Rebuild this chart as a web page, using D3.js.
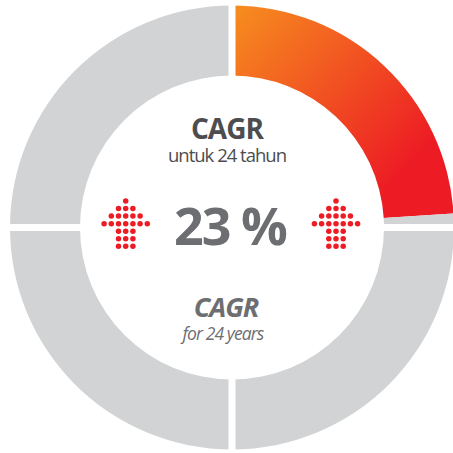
<!DOCTYPE html>
<meta charset="utf-8">
<title>CAGR donut</title>
<style>
    body {
        margin: 0;
        background: #fff;
        font-family: "Open Sans", sans-serif;
    }
</style>

<body>
    <div id="chart"></div>
    <script src="https://d3js.org/d3.v7.min.js"></script>

    <script>
        // share of the ring, in percent, going clockwise from 12 o'clock
        var segValues = [24, 1, 25, 25, 25];
        var segKinds = ["fill", "rest", "rest", "rest", "rest"];
        // quadrant boundaries (percent of the ring) where the white gaps sit
        var gapStops = [0, 25, 50, 75];
        // dots per row of each arrow, top to bottom
        var arrowRows = [1, 3, 5, 7, 3, 3, 3];

        var cagrValue = "23 %";
        var titleId = "CAGR";
        var subId = "untuk 24 tahun";
        var titleEn = "CAGR";
        var subEn = "for 24 years";

        var width = 453,
            height = 453,
            cx = 232,
            cy = 227.5,
            outerR = 222,
            innerR = 152;

        var colorGrey = "#d1d3d4",
            colorOrange = "#f68b1f",
            colorRed = "#ed1c24";

        var svg = d3.select("#chart")
            .append("svg")
            .attr("width", width)
            .attr("height", height);

        // gradient coords are relative to the ring centre (used inside translated g)
        var defs = svg.append("defs");
        var grad = defs.append("linearGradient")
            .attr("id", "fillGrad")
            .attr("gradientUnits", "userSpaceOnUse")
            .attr("x1", 4).attr("y1", -215)
            .attr("x2", 170).attr("y2", -55);
        grad.append("stop").attr("offset", 0).attr("stop-color", colorOrange);
        grad.append("stop").attr("offset", 1).attr("stop-color", colorRed);

        var g = svg.append("g")
            .attr("transform", `translate(${cx},${cy})`);

        var pie = d3.pie().sort(null).value(d => d);
        var arc = d3.arc().innerRadius(innerR).outerRadius(outerR);
        var angle = d3.scaleLinear().domain([0, 100]).range([0, 2 * Math.PI]);

        g.selectAll(".seg")
            .data(pie(segValues))
            .enter().append("path")
            .attr("class", "seg")
            .attr("d", arc)
            .style("fill", (d, i) => segKinds[i] == "fill" ? "url(#fillGrad)" : colorGrey);

        // white gaps between the quadrants
        g.selectAll(".gap")
            .data(gapStops)
            .enter().append("line")
            .attr("class", "gap")
            .attr("x1", 0).attr("y1", 0)
            .attr("x2", d => Math.sin(angle(d)) * (outerR + 10))
            .attr("y2", d => -Math.cos(angle(d)) * (outerR + 10))
            .style("stroke", "#fff")
            .style("stroke-width", 7);

        // dotted arrows
        var dx = 7.2, dy = 7.55, dotR = 2.75;
        function drawArrow(x0, y0) {
            var ag = svg.append("g").attr("transform", `translate(${x0},${y0})`);
            arrowRows.forEach(function(n, r) {
                d3.range(n).forEach(function(k) {
                    ag.append("circle")
                        .attr("cx", (k - (n - 1) / 2) * dx)
                        .attr("cy", r * dy)
                        .attr("r", dotR)
                        .style("fill", colorRed);
                });
            });
        }
        drawArrow(125.7, 201);
        drawArrow(336, 201);

        // top label block (title + subtitle in one text)
        var topLabel = svg.append("text")
            .style("text-anchor", "middle")
            .style("fill", "#4d4d4f");
        topLabel.append("tspan")
            .attr("x", 227).attr("y", 138.5)
            .style("font-size", "28px")
            .style("font-weight", "bold")
            .style("letter-spacing", "-1px")
            .text(titleId);
        topLabel.append("tspan")
            .attr("x", 227).attr("y", 161.5)
            .style("font-size", "18.5px")
            .style("letter-spacing", "-1px")
            .text(subId);

        svg.append("text")
            .attr("x", 230).attr("y", 245)
            .style("text-anchor", "middle")
            .style("font-size", "52px")
            .style("font-weight", "bold")
            .style("letter-spacing", "-2px")
            .style("fill", "#6d6e71")
            .text(cagrValue);

        // bottom label block
        var botLabel = svg.append("text")
            .style("text-anchor", "middle")
            .style("font-style", "italic")
            .style("fill", "#6d6e71");
        botLabel.append("tspan")
            .attr("x", 226).attr("y", 317)
            .style("font-size", "27px")
            .style("font-weight", "bold")
            .style("letter-spacing", "-1px")
            .text(titleEn);
        botLabel.append("tspan")
            .attr("x", 223).attr("y", 340)
            .style("font-size", "17.5px")
            .style("letter-spacing", "-0.9px")
            .text(subEn);
    </script>
</body>
